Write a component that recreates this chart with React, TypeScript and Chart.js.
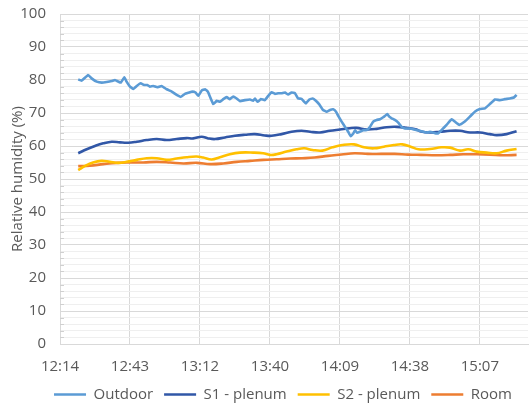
import React, { useEffect, useRef } from 'react';
import { Chart, registerables } from 'chart.js';

Chart.register(...registerables);

// time in minutes since midnight
const outdoorTime = [741.9, 743.3, 746.0, 747.4, 749.5, 751.6, 753.6, 755.7, 757.0, 758.4, 759.4, 760.9, 761.8, 763.2, 764.6, 766.0, 767.6, 769.0, 770.3, 771.4, 772.8, 774.4, 776.2, 778.3, 780.4, 782.4, 784.1, 785.8, 787.6, 788.8, 790.2, 791.3, 792.7, 794.1, 795.2, 796.1, 797.5, 798.9, 800.2, 801.6, 803.0, 804.3, 805.7, 807.1, 808.5, 810.5, 812.6, 813.9, 814.6, 815.7, 817.1, 818.7, 820.1, 821.5, 822.9, 824.2, 825.6, 827.0, 828.3, 829.7, 831.1, 832.4, 833.8, 834.9, 835.6, 837.0, 838.4, 839.7, 841.1, 842.7, 844.1, 845.5, 846.8, 848.0, 848.9, 850.3, 851.7, 853.0, 854.0, 855.1, 855.8, 856.7, 857.8, 859.2, 860.6, 862.0, 863.3, 864.7, 866.1, 867.4, 868.1, 869.1, 869.9, 870.9, 872.2, 873.6, 875.0, 876.3, 878.4, 881.2, 882.5, 885.3, 886.6, 889.4, 890.0, 891.4, 893.5, 895.6, 896.9, 898.7, 901.0, 903.1, 905.1, 907.2, 909.3, 911.3, 913.4, 915.4, 917.5, 919.5, 921.2, 922.3];
const outdoorRH = [80.2, 79.8, 81.5, 80.5, 79.5, 79.2, 79.4, 79.7, 80.0, 79.5, 79.2, 80.8, 79.5, 78.0, 77.3, 78.2, 79.0, 78.5, 78.5, 78.0, 78.2, 77.8, 78.2, 77.2, 76.5, 75.5, 74.9, 75.8, 76.2, 76.5, 76.2, 75.2, 76.8, 77.2, 76.5, 75.0, 72.7, 73.7, 73.4, 74.2, 74.8, 74.2, 75.0, 74.4, 73.6, 73.9, 74.1, 73.7, 74.4, 73.4, 74.2, 73.9, 75.2, 76.3, 75.8, 76.0, 76.0, 76.2, 75.6, 76.2, 76.0, 74.4, 74.3, 73.4, 72.9, 74.1, 74.4, 73.7, 72.6, 70.9, 70.4, 70.9, 71.1, 70.4, 69.1, 67.4, 65.8, 64.3, 63.0, 63.8, 64.8, 64.0, 64.3, 64.8, 64.8, 65.8, 67.4, 67.9, 68.1, 68.7, 69.1, 69.7, 68.9, 68.4, 67.9, 67.1, 65.8, 65.3, 65.3, 64.8, 64.6, 64.1, 64.3, 63.8, 63.8, 64.8, 66.4, 68.1, 67.4, 66.4, 67.4, 68.9, 70.4, 71.2, 71.4, 72.7, 74.1, 73.9, 74.2, 74.4, 74.7, 75.5];

const s1Time = [741.9, 745.4, 748.8, 752.2, 755.7, 759.1, 762.5, 766.0, 770.1, 774.2, 778.3, 782.4, 786.5, 789.2, 792.7, 795.4, 798.2, 802.3, 806.4, 810.5, 814.6, 818.7, 821.5, 825.6, 829.7, 833.8, 837.3, 841.4, 845.5, 849.6, 853.7, 856.5, 860.6, 864.7, 868.8, 873.0, 877.0, 881.2, 882.5, 886.6, 890.7, 894.9, 899.0, 903.1, 907.2, 911.3, 914.1, 918.2, 922.3];
const s1RH = [57.8, 59.0, 60.0, 60.8, 61.3, 61.1, 61.0, 61.3, 61.8, 62.1, 61.8, 62.1, 62.4, 62.3, 62.8, 62.3, 62.1, 62.6, 63.1, 63.4, 63.6, 63.2, 63.1, 63.6, 64.3, 64.6, 64.3, 64.1, 64.6, 65.0, 65.4, 65.5, 65.0, 65.2, 65.7, 65.8, 65.5, 65.0, 64.5, 64.1, 64.3, 64.6, 64.6, 64.1, 64.1, 63.6, 63.3, 63.6, 64.5];

const s2Time = [741.9, 744.6, 748.0, 751.5, 754.9, 758.4, 761.8, 766.0, 770.1, 774.2, 778.3, 782.4, 786.5, 790.6, 793.3, 796.8, 800.2, 804.3, 808.4, 813.9, 818.0, 820.8, 823.5, 827.6, 831.7, 835.0, 838.3, 842.4, 846.5, 850.6, 855.4, 859.5, 863.6, 867.7, 871.8, 875.3, 878.7, 882.0, 886.6, 891.4, 894.9, 899.0, 902.4, 905.9, 910.0, 914.1, 918.2, 922.3];
const s2RH = [52.7, 53.9, 55.0, 55.5, 55.2, 54.9, 55.2, 55.8, 56.3, 56.3, 55.8, 56.2, 56.6, 56.8, 56.5, 55.9, 56.6, 57.5, 58.0, 58.0, 57.8, 57.3, 57.5, 58.3, 59.0, 59.3, 58.8, 58.6, 59.6, 60.3, 60.5, 59.6, 59.3, 59.8, 60.3, 60.5, 59.8, 59.0, 59.1, 59.6, 59.5, 58.6, 59.0, 58.3, 58.0, 57.8, 58.6, 59.1];

const roomTime = [741.9, 746.7, 752.2, 757.7, 763.2, 768.7, 774.2, 779.7, 785.2, 790.7, 796.2, 801.6, 807.1, 812.6, 818.1, 823.6, 829.1, 834.0, 839.2, 844.7, 850.2, 855.6, 861.1, 866.6, 872.1, 877.6, 883.0, 889.4, 894.9, 900.4, 905.9, 911.3, 916.8, 922.3];
const roomRH = [53.9, 54.0, 54.5, 54.9, 55.0, 55.0, 55.2, 55.0, 54.7, 54.9, 54.5, 54.7, 55.2, 55.5, 55.8, 56.0, 56.2, 56.3, 56.5, 57.0, 57.4, 57.8, 57.6, 57.6, 57.6, 57.4, 57.3, 57.2, 57.3, 57.5, 57.5, 57.4, 57.2, 57.3];

const xTickValues = [734.4, 763.2, 792.0, 820.8, 849.6, 878.4, 907.2];
const xTickLabels = ['12:14', '12:43', '13:12', '13:40', '14:09', '14:38', '15:07'];
const xMin = 734.4;
const xMax = 927;

const seriesNames = ['Outdoor', 'S1 - plenum', 'S2 - plenum', 'Room'];
const seriesColors = ['#5B9BD5', '#3157A7', '#FFC000', '#ED7D31'];

const FONT = "'Open Sans', sans-serif";
const TEXT = '#595959';
const FS = 15;
const LEGEND_SHIFT = 19;

const minorTicks = {
  id: 'minorTicks',
  afterLayout(chart: any) {
    // the legend sits slightly right of centre in the original
    if (chart.legend) {
      chart.legend.left += LEGEND_SHIFT;
      chart.legend.right += LEGEND_SHIFT;
    }
  },
  beforeDatasetsDraw(chart: any) {
    const y = chart.scales.y;
    const ctx = chart.ctx;
    const left = chart.chartArea.left;
    ctx.save();
    ctx.strokeStyle = '#d0d0d0';
    ctx.lineWidth = 1;
    for (let v = 0; v <= 100; v += 2) {
      if (v % 10 === 0) continue;
      const py = Math.round(y.getPixelForValue(v)) + 0.5;
      ctx.beginPath();
      ctx.moveTo(left, py);
      ctx.lineTo(left + 4, py);
      ctx.stroke();
    }
    ctx.restore();
  },
};

function buildChart(canvas: HTMLCanvasElement) {
  const times = [outdoorTime, s1Time, s2Time, roomTime];
  const vals = [outdoorRH, s1RH, s2RH, roomRH];
  return new Chart(canvas, {
    type: 'line',
    data: {
      datasets: seriesNames.map((name, i) => ({
        label: name,
        data: times[i].map((t, j) => ({ x: t, y: vals[i][j] })),
        borderColor: seriesColors[i],
        backgroundColor: seriesColors[i],
        borderWidth: 2.6,
        pointRadius: 0,
        tension: i === 0 ? 0.1 : 0.4,
        fill: false,
      })),
    },
    options: {
      responsive: false,
      animation: false,
      layout: { padding: { left: 0, right: 1, top: 14, bottom: -4 } },
      plugins: {
        tooltip: { enabled: false },
        legend: {
          position: 'bottom',
          labels: {
            usePointStyle: true,
            pointStyle: 'line',
            pointStyleWidth: 32,
            boxHeight: FS,
            padding: 11,
            color: TEXT,
            font: { family: FONT, size: FS },
          },
        },
      },
      scales: {
        x: {
          type: 'linear',
          min: xMin,
          max: xMax,
          afterBuildTicks: (scale: any) => {
            scale.ticks = xTickValues.map((v) => ({ value: v }));
          },
          afterFit: (scale: any) => {
            scale.height = 32;
          },
          ticks: {
            autoSkip: false,
            maxRotation: 0,
            padding: 14,
            color: TEXT,
            font: { family: FONT, size: FS },
            callback: (v: any) => {
              const i = xTickValues.findIndex((t) => Math.abs(t - v) < 0.01);
              return i >= 0 ? xTickLabels[i] : '';
            },
          },
          grid: { color: '#d9d9d9', drawTicks: false },
          border: { color: '#d9d9d9' },
        },
        y: {
          min: 0,
          max: 100,
          afterFit: (scale: any) => {
            scale.width = 60;
            scale.paddingTop = 0;
            scale.paddingBottom = 0;
          },
          ticks: {
            stepSize: 2,
            autoSkip: false,
            padding: 14,
            color: TEXT,
            font: { family: FONT, size: FS },
            callback: (v: any) => (v % 10 === 0 ? String(v) : ''),
          },
          grid: {
            drawTicks: false,
            color: (c: any) => (c.tick && c.tick.value % 10 === 0 ? '#d9d9d9' : '#efefef'),
          },
          border: { color: '#d9d9d9' },
          title: {
            display: true,
            text: 'Relative humidity (%)',
            color: TEXT,
            font: { family: FONT, size: FS },
            padding: { top: 9, bottom: 0 },
          },
        },
      },
    },
    plugins: [minorTicks],
  });
}

export default function App() {
  const ref = useRef<HTMLCanvasElement | null>(null);
  useEffect(() => {
    let chart: Chart | null = null;
    let cancelled = false;
    const make = () => {
      if (cancelled || !ref.current) return;
      chart = buildChart(ref.current);
    };
    const fonts: any = (document as any).fonts;
    if (fonts && fonts.load) {
      Promise.all([fonts.load(`${FS}px "Open Sans"`), fonts.ready]).then(make, make);
    } else {
      make();
    }
    return () => {
      cancelled = true;
      if (chart) chart.destroy();
    };
  }, []);
  return (
    <div style={{ position: 'absolute', left: 0, top: 0, width: 529, height: 408, background: '#fff' }}>
      <canvas ref={ref} width={529} height={408} style={{ width: 529, height: 408 }} />
    </div>
  );
}
